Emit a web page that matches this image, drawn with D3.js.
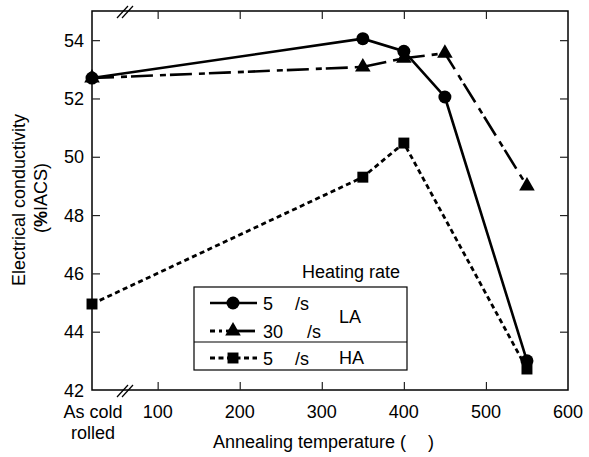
<!DOCTYPE html>
<html><head><meta charset="utf-8">
<script src="https://cdn.jsdelivr.net/npm/d3@7"></script>
<style>
body{margin:0;background:#fff;}
text{font-family:"Liberation Sans",Arial,sans-serif;fill:#000;}
</style></head>
<body>
<svg id="c" width="589" height="457"></svg>
<script>
// ---- data ----
const temps = [20, 350, 400, 450, 550]; // 20 = "As cold rolled" position
const la5 = [52.7, 54.05, 53.62, 52.05, 43.0];
const la30 = [52.7, 53.08, 53.38, 53.55, 49.0];
const haTemps = [20, 350, 400, 550];
const ha5 = [44.95, 49.3, 50.47, 42.72];
const xTicks = [100, 200, 300, 400, 500, 600];
const yTicks = [42, 44, 46, 48, 50, 52, 54];
const legendRates = ["5", "30", "5"];
const legendGroups = ["LA", "HA"];

const svg = d3.select("#c");
const L = 92, R = 568, T = 11, B = 390;
const x = d3.scaleLinear().domain([20, 600]).range([L, R]);
const y = d3.scaleLinear().domain([42, 55]).range([B, T]);
const FS = 18;

// frame
svg.append("rect").attr("x", L).attr("y", T).attr("width", R - L).attr("height", B - T)
  .attr("fill", "none").attr("stroke", "#000").attr("stroke-width", 1.5);

// inner ticks via axes
const inner = xTicks.filter(d => d < 600);
const innerY = yTicks.filter(d => d > 42);
const ax = (g) => { g.select(".domain").remove(); g.selectAll("text").remove(); g.selectAll("line").attr("stroke", "#222").attr("stroke-width", 1.2); };
svg.append("g").attr("transform", `translate(0,${B})`).call(d3.axisTop(x).tickValues(inner).tickSize(8)).call(ax);
svg.append("g").attr("transform", `translate(0,${T})`).call(d3.axisBottom(x).tickValues(inner).tickSize(8)).call(ax);
svg.append("g").attr("transform", `translate(${L},0)`).call(d3.axisRight(y).tickValues(innerY).tickSize(8)).call(ax);
svg.append("g").attr("transform", `translate(${R},0)`).call(d3.axisLeft(y).tickValues(innerY).tickSize(8)).call(ax);

// tick labels
svg.append("g").selectAll("text").data(xTicks).join("text")
  .attr("x", d => x(d)).attr("y", 418).attr("text-anchor", "middle")
  .attr("font-size", FS).text(d => d);
svg.append("text").attr("x", x(20) + 1).attr("y", 418).attr("text-anchor", "middle").attr("font-size", FS).text("As cold");
svg.append("text").attr("x", x(20) + 1).attr("y", 439).attr("text-anchor", "middle").attr("font-size", FS).text("rolled");
svg.append("g").selectAll("text").data(yTicks).join("text")
  .attr("x", 84).attr("y", d => y(d) + 6.5).attr("text-anchor", "end")
  .attr("font-size", FS).text(d => d);

// break marks
[T, B].forEach(yy => {
  [0, 5].forEach(o => {
    svg.append("line").attr("x1", 117 + o).attr("y1", yy + 7).attr("x2", 128 + o).attr("y2", yy - 5)
      .attr("stroke", "#000").attr("stroke-width", 1.2);
  });
});

// axis titles
svg.append("text").attr("x", 213).attr("y", 448).attr("font-size", FS).text("Annealing temperature (");
svg.append("text").attr("x", 428).attr("y", 448).attr("font-size", FS).text(")");
svg.append("text").attr("transform", "translate(25,200) rotate(-90)").attr("text-anchor", "middle")
  .attr("font-size", FS).text("Electrical conductivity");
const t2 = svg.append("text").attr("transform", "translate(47,198) rotate(-90)").attr("text-anchor", "middle").attr("font-size", FS);
t2.append("tspan").text("(");
t2.append("tspan").attr("font-weight", "bold").text("%");
t2.append("tspan").text("IACS)");

// series
const line = d3.line().x(d => x(d[0])).y(d => y(d[1]));
const s1 = temps.map((t, i) => [t, la5[i]]);
const s2 = temps.map((t, i) => [t, la30[i]]);
const s3 = haTemps.map((t, i) => [t, ha5[i]]);
const dash2 = "22,7,6,4", dash3 = "5,3.5";

svg.append("path").attr("d", line(s3)).attr("fill", "none").attr("stroke", "#000").attr("stroke-width", 2.8).attr("stroke-dasharray", dash3);
svg.append("path").attr("d", line(s2)).attr("fill", "none").attr("stroke", "#000").attr("stroke-width", 2.6).attr("stroke-dasharray", dash2);
svg.append("path").attr("d", line(s1)).attr("fill", "none").attr("stroke", "#000").attr("stroke-width", 2.6);

const tri = d3.symbol().type(d3.symbolTriangle).size(105);
const sq = d3.symbol().type(d3.symbolSquare).size(120);
svg.append("g").selectAll("path").data(s2).join("path").attr("d", tri)
  .attr("transform", d => `translate(${x(d[0])},${y(d[1])})`).attr("fill", "#000");
svg.append("g").selectAll("circle").data(s1).join("circle")
  .attr("cx", d => x(d[0])).attr("cy", d => y(d[1])).attr("r", 6.5).attr("fill", "#000");
svg.append("g").selectAll("path").data(s3).join("path").attr("d", sq)
  .attr("transform", d => `translate(${x(d[0])},${y(d[1])})`).attr("fill", "#000");

// legend
svg.append("text").attr("x", 302).attr("y", 278).attr("font-size", FS).text("Heating rate");
svg.append("rect").attr("x", 194).attr("y", 287).attr("width", 213).attr("height", 83)
  .attr("fill", "#fff").attr("stroke", "#000").attr("stroke-width", 1.2);
svg.append("line").attr("x1", 194).attr("x2", 407).attr("y1", 342).attr("y2", 342).attr("stroke", "#000").attr("stroke-width", 1.2);
const rows = [303, 331, 358];
const lx1 = 210, lx2 = 257, mx = 233;
svg.append("line").attr("x1", lx1).attr("x2", lx2).attr("y1", rows[0]).attr("y2", rows[0]).attr("stroke", "#000").attr("stroke-width", 2.6);
svg.append("circle").attr("cx", mx).attr("cy", rows[0]).attr("r", 6.5).attr("fill", "#000");
svg.append("line").attr("x1", lx1).attr("x2", 222).attr("y1", rows[1]).attr("y2", rows[1]).attr("stroke", "#000").attr("stroke-width", 2.8).attr("stroke-dasharray", "5,4");
svg.append("line").attr("x1", 226).attr("x2", 255).attr("y1", rows[1]).attr("y2", rows[1]).attr("stroke", "#000").attr("stroke-width", 2.8);
svg.append("path").attr("d", tri).attr("transform", `translate(${mx},${rows[1]})`).attr("fill", "#000");
svg.append("line").attr("x1", lx1).attr("x2", lx2).attr("y1", rows[2]).attr("y2", rows[2]).attr("stroke", "#000").attr("stroke-width", 2.8).attr("stroke-dasharray", "5,3.5");
svg.append("path").attr("d", sq).attr("transform", `translate(${mx},${rows[2]})`).attr("fill", "#000");
const slashX = [295, 307, 295];
legendRates.forEach((r, i) => {
  svg.append("text").attr("x", 263).attr("y", rows[i] + 6.5).attr("font-size", FS).text(r);
  svg.append("text").attr("x", slashX[i]).attr("y", rows[i] + 6.5).attr("font-size", FS).text("/s");
});
svg.append("text").attr("x", 339).attr("y", 323).attr("font-size", FS).text(legendGroups[0]);
svg.append("text").attr("x", 339).attr("y", 364).attr("font-size", FS).text(legendGroups[1]);
</script>
</body></html>
